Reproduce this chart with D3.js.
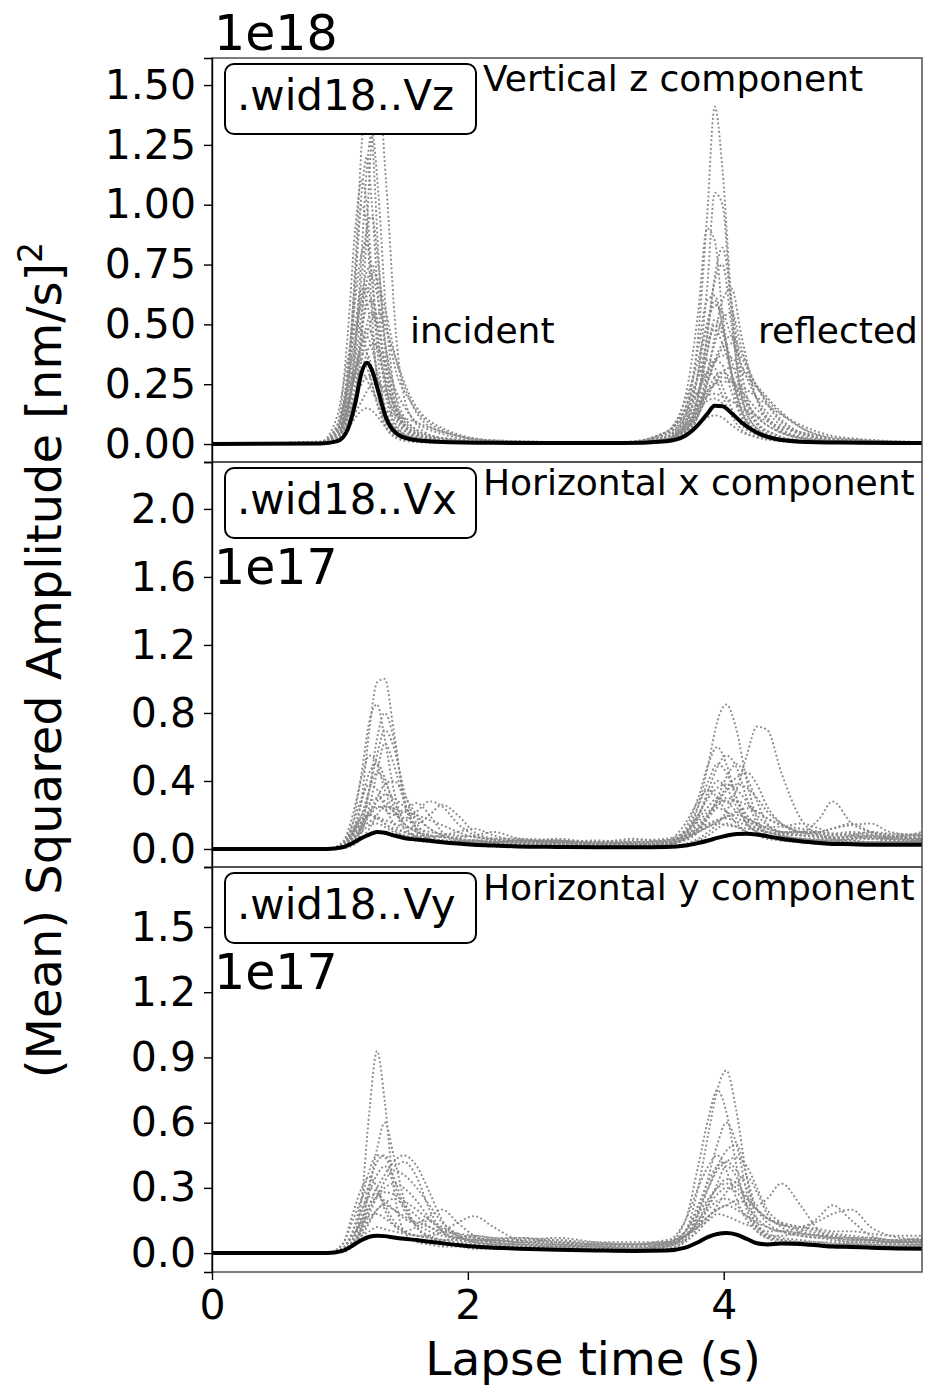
<!DOCTYPE html>
<html>
<head>
<meta charset="utf-8">
<script src="https://cdn.jsdelivr.net/npm/d3@7"></script>
<style>
  body { margin: 0; background: #fff; }
  svg { display: block; font-family: "DejaVu Sans", sans-serif; }
</style>
</head>
<body>
<svg id="chart" width="925" height="1389"></svg>
<script>
// ---------------- data ----------------
// lapse-time knots (s) for the vertical component
const zTimes = [0, 0.85, 0.98, 1.06, 1.12, 1.17, 1.21, 1.25, 1.3, 1.36, 1.44, 1.55, 1.75, 2.2,
                3.2, 3.55, 3.7, 3.8, 3.87, 3.93, 3.99, 4.06, 4.14, 4.25, 4.4, 4.6, 4.9, 5.55];
// lapse-time knots (s) for the two horizontal components
const hTimes = [0, 0.9, 1.02, 1.1, 1.17, 1.23, 1.29, 1.35, 1.42, 1.5, 1.6, 1.7, 1.8, 1.92, 2.05, 2.2, 2.4, 2.7, 3.0, 3.3,
                3.55, 3.7, 3.8, 3.88, 3.95, 4.02, 4.1, 4.18, 4.26, 4.34, 4.45, 4.6, 4.75, 4.85, 5.0, 5.15, 5.3, 5.55];

// squared amplitude of single records, Vz (x 1e18)
const zTraces = [
  [0,0.003,0.03,0.25,0.75,1.25,1.5,1.3,0.8,0.35,0.12,0.04,0.015,0.005,  0.004,0.02,0.12,0.45,0.95,1.41,1.15,0.6,0.25,0.09,0.03,0.012,0.006,0.004],
  [0,0.002,0.01,0.06,0.2,0.5,0.9,1.3,1.48,1.1,0.45,0.12,0.03,0.006,     0.003,0.015,0.08,0.3,0.65,1.05,1.0,0.55,0.2,0.07,0.025,0.01,0.005,0.003],
  [0,0.004,0.05,0.3,0.7,1.05,1.2,1.0,0.6,0.25,0.08,0.03,0.012,0.004,    0.003,0.02,0.06,0.2,0.45,0.7,0.82,0.6,0.3,0.1,0.04,0.015,0.006,0.004],
  [0,0.006,0.08,0.45,0.9,1.1,1.0,0.7,0.35,0.12,0.05,0.02,0.01,0.004,    0.003,0.03,0.15,0.4,0.6,0.62,0.5,0.3,0.15,0.06,0.03,0.012,0.006,0.004],
  [0,0.003,0.03,0.15,0.4,0.7,0.9,0.95,0.75,0.4,0.15,0.05,0.02,0.006,    0.004,0.015,0.05,0.15,0.3,0.42,0.52,0.55,0.4,0.2,0.08,0.03,0.01,0.005],
  [0,0.005,0.06,0.3,0.6,0.8,0.85,0.7,0.45,0.2,0.07,0.03,0.012,0.005,    0.003,0.04,0.15,0.28,0.35,0.32,0.24,0.15,0.08,0.04,0.02,0.01,0.005,0.003],
  [0,0.008,0.07,0.25,0.45,0.62,0.72,0.75,0.65,0.5,0.3,0.18,0.07,0.012,  0.004,0.02,0.07,0.15,0.22,0.28,0.3,0.27,0.2,0.12,0.06,0.025,0.01,0.005],
  [0,0.004,0.05,0.25,0.5,0.65,0.6,0.45,0.25,0.1,0.04,0.02,0.008,0.004,  0.003,0.02,0.1,0.3,0.5,0.6,0.5,0.3,0.14,0.05,0.02,0.008,0.004,0.003],
  [0,0.003,0.02,0.08,0.2,0.35,0.45,0.52,0.55,0.48,0.35,0.2,0.08,0.015,  0.005,0.02,0.06,0.12,0.2,0.25,0.28,0.26,0.22,0.15,0.08,0.03,0.012,0.006],
  [0,0.004,0.04,0.15,0.3,0.42,0.45,0.4,0.28,0.14,0.06,0.025,0.01,0.004, 0.003,0.01,0.05,0.2,0.45,0.68,0.75,0.5,0.2,0.07,0.025,0.01,0.005,0.003],
  [0,0.01,0.08,0.22,0.32,0.35,0.32,0.25,0.16,0.09,0.05,0.03,0.015,0.006,0.004,0.03,0.08,0.14,0.18,0.19,0.17,0.13,0.09,0.05,0.025,0.012,0.006,0.004],
  [0,0.003,0.02,0.07,0.13,0.18,0.22,0.25,0.25,0.2,0.12,0.06,0.025,0.008,0.004,0.04,0.2,0.55,0.9,0.85,0.55,0.28,0.12,0.05,0.02,0.008,0.004,0.003],
  [0,0.002,0.02,0.2,0.65,1.0,0.9,0.55,0.22,0.07,0.025,0.01,0.005,0.003, 0.002,0.01,0.04,0.12,0.25,0.35,0.33,0.22,0.11,0.045,0.018,0.008,0.004,0.002],
  [0,0.004,0.03,0.12,0.3,0.48,0.58,0.6,0.5,0.3,0.13,0.05,0.02,0.006,    0.004,0.02,0.06,0.14,0.25,0.35,0.42,0.45,0.38,0.25,0.13,0.05,0.018,0.008],
  [0,0.003,0.02,0.06,0.11,0.14,0.15,0.14,0.11,0.07,0.04,0.02,0.01,0.004,0.003,0.015,0.04,0.08,0.11,0.12,0.11,0.08,0.05,0.03,0.015,0.008,0.004,0.003],
  [0,0.002,0.02,0.12,0.4,0.8,1.15,1.3,1.05,0.55,0.18,0.05,0.015,0.005,  0.003,0.01,0.05,0.18,0.38,0.52,0.48,0.3,0.14,0.05,0.02,0.008,0.004,0.003],
  [0,0.01,0.12,0.35,0.5,0.47,0.38,0.26,0.15,0.07,0.03,0.015,0.008,0.004,0.003,0.02,0.09,0.22,0.3,0.28,0.2,0.12,0.06,0.03,0.015,0.007,0.004,0.003],
  [0,0.003,0.03,0.14,0.3,0.38,0.38,0.32,0.22,0.12,0.06,0.03,0.012,0.005,0.003,0.01,0.04,0.12,0.28,0.45,0.6,0.65,0.45,0.2,0.07,0.025,0.01,0.004],
  [0,0.01,0.05,0.12,0.2,0.25,0.28,0.28,0.26,0.22,0.15,0.08,0.03,0.01,   0.008,0.05,0.12,0.18,0.22,0.25,0.26,0.26,0.24,0.2,0.14,0.08,0.03,0.008],
  [0,0.005,0.04,0.15,0.35,0.55,0.68,0.72,0.68,0.55,0.35,0.18,0.06,0.015,0.005,0.05,0.18,0.35,0.5,0.58,0.55,0.45,0.33,0.2,0.1,0.04,0.015,0.006],
  [0,0.004,0.03,0.1,0.25,0.45,0.62,0.7,0.6,0.4,0.2,0.08,0.03,0.008,     0.004,0.02,0.08,0.2,0.38,0.5,0.46,0.35,0.22,0.12,0.06,0.025,0.01,0.005],
  [0,0.008,0.06,0.18,0.28,0.3,0.27,0.22,0.18,0.14,0.12,0.1,0.06,0.015,  0.006,0.04,0.1,0.16,0.2,0.21,0.2,0.18,0.15,0.12,0.08,0.05,0.02,0.008],
  [0,0.003,0.02,0.08,0.2,0.38,0.5,0.55,0.48,0.32,0.16,0.07,0.025,0.007, 0.003,0.015,0.05,0.12,0.2,0.26,0.3,0.32,0.3,0.24,0.15,0.07,0.025,0.008],
  [0,0.005,0.05,0.2,0.42,0.6,0.65,0.58,0.42,0.24,0.1,0.04,0.015,0.005,  0.004,0.03,0.12,0.28,0.42,0.48,0.42,0.3,0.18,0.09,0.04,0.015,0.007,0.004],
  [0,0.004,0.03,0.1,0.2,0.3,0.38,0.42,0.4,0.33,0.22,0.12,0.05,0.01,     0.005,0.05,0.14,0.22,0.3,0.35,0.37,0.36,0.32,0.25,0.16,0.07,0.02,0.006],
  [0,0.006,0.05,0.16,0.3,0.42,0.48,0.46,0.38,0.26,0.14,0.06,0.02,0.006, 0.004,0.02,0.07,0.16,0.26,0.34,0.4,0.42,0.36,0.25,0.12,0.045,0.015,0.006]
];
const zMean = [0,0.002,0.012,0.06,0.17,0.3,0.34,0.31,0.22,0.11,0.045,0.02,0.01,0.005,
               0.004,0.012,0.035,0.08,0.125,0.16,0.158,0.13,0.09,0.05,0.022,0.01,0.006,0.004];

// squared amplitude of single records, Vx (x 1e17)
const xTraces = [
  [0,0,0.01,0.08,0.3,0.7,0.98,1.0,0.7,0.3,0.1,0.05,0.04,0.03,0.02,0.015,0.01,0.01,0.008,0.008,     0.01,0.02,0.05,0.08,0.12,0.15,0.13,0.1,0.08,0.06,0.05,0.04,0.03,0.03,0.03,0.03,0.025,0.03],
  [0,0,0.02,0.15,0.45,0.75,0.85,0.65,0.35,0.15,0.07,0.05,0.04,0.03,0.025,0.02,0.015,0.01,0.01,0.01,0.02,0.08,0.25,0.5,0.75,0.85,0.7,0.4,0.18,0.08,0.05,0.04,0.03,0.03,0.03,0.03,0.03,0.035],
  [0,0,0.005,0.04,0.15,0.35,0.55,0.7,0.6,0.35,0.15,0.08,0.05,0.04,0.03,0.02,0.02,0.015,0.01,0.01,  0.015,0.03,0.06,0.1,0.15,0.22,0.35,0.55,0.72,0.7,0.45,0.18,0.08,0.06,0.05,0.04,0.04,0.04],
  [0,0,0.04,0.2,0.42,0.55,0.5,0.35,0.22,0.18,0.22,0.28,0.25,0.15,0.08,0.05,0.04,0.03,0.02,0.02,    0.03,0.1,0.25,0.4,0.5,0.45,0.3,0.18,0.12,0.1,0.08,0.06,0.05,0.04,0.04,0.04,0.04,0.05],
  [0,0,0.01,0.08,0.2,0.35,0.45,0.4,0.28,0.18,0.15,0.2,0.26,0.2,0.1,0.06,0.04,0.03,0.03,0.02,       0.03,0.12,0.3,0.5,0.6,0.5,0.3,0.15,0.1,0.08,0.07,0.06,0.05,0.05,0.04,0.04,0.04,0.04],
  [0,0,0.02,0.1,0.2,0.27,0.3,0.28,0.22,0.15,0.1,0.08,0.07,0.07,0.08,0.1,0.06,0.04,0.03,0.03,       0.04,0.07,0.12,0.2,0.3,0.42,0.5,0.42,0.28,0.15,0.1,0.1,0.18,0.28,0.15,0.1,0.08,0.06],
  [0,0,0.03,0.12,0.18,0.2,0.18,0.15,0.12,0.1,0.08,0.06,0.05,0.05,0.04,0.04,0.05,0.04,0.03,0.03,     0.04,0.1,0.18,0.25,0.3,0.28,0.22,0.18,0.15,0.12,0.1,0.09,0.1,0.12,0.14,0.15,0.1,0.08],
  [0,0,0.005,0.03,0.1,0.25,0.45,0.62,0.5,0.28,0.12,0.06,0.04,0.03,0.03,0.03,0.02,0.02,0.015,0.015, 0.04,0.15,0.28,0.35,0.3,0.22,0.15,0.1,0.08,0.07,0.06,0.05,0.05,0.04,0.04,0.04,0.05,0.05],
  [0,0,0.02,0.06,0.1,0.14,0.15,0.13,0.1,0.08,0.06,0.05,0.05,0.04,0.05,0.04,0.03,0.05,0.03,0.04,    0.05,0.08,0.12,0.15,0.17,0.18,0.16,0.14,0.12,0.1,0.09,0.08,0.07,0.06,0.08,0.1,0.09,0.08],
  [0,0,0.03,0.15,0.3,0.38,0.35,0.25,0.15,0.1,0.08,0.06,0.05,0.04,0.03,0.03,0.03,0.03,0.02,0.02,    0.03,0.06,0.12,0.2,0.28,0.36,0.42,0.45,0.38,0.25,0.15,0.1,0.1,0.12,0.15,0.1,0.08,0.06],
  [0,0,0.005,0.03,0.12,0.35,0.65,0.8,0.65,0.3,0.12,0.06,0.04,0.03,0.025,0.02,0.02,0.015,0.015,0.01,0.02,0.06,0.18,0.35,0.48,0.55,0.48,0.3,0.15,0.08,0.06,0.05,0.04,0.04,0.035,0.035,0.04,0.04],
  [0,0,0.02,0.08,0.16,0.22,0.25,0.23,0.2,0.22,0.27,0.2,0.1,0.06,0.05,0.04,0.04,0.035,0.03,0.03,    0.03,0.05,0.1,0.18,0.25,0.3,0.28,0.2,0.14,0.1,0.08,0.06,0.06,0.05,0.06,0.07,0.06,0.05],
  [0,0,0.01,0.04,0.07,0.09,0.1,0.09,0.08,0.06,0.05,0.04,0.04,0.04,0.05,0.04,0.04,0.06,0.04,0.06,   0.04,0.06,0.1,0.13,0.15,0.14,0.13,0.12,0.11,0.1,0.09,0.08,0.08,0.07,0.07,0.08,0.07,0.1],
  [0,0,0.01,0.1,0.28,0.45,0.5,0.42,0.25,0.12,0.07,0.05,0.04,0.035,0.03,0.025,0.02,0.02,0.015,0.015,0.02,0.08,0.2,0.32,0.4,0.36,0.25,0.15,0.1,0.08,0.07,0.06,0.05,0.05,0.05,0.04,0.04,0.05],
  [0,0,0.03,0.1,0.16,0.2,0.19,0.15,0.11,0.08,0.07,0.07,0.08,0.1,0.12,0.08,0.05,0.04,0.03,0.03,     0.03,0.06,0.1,0.14,0.17,0.19,0.2,0.18,0.15,0.13,0.13,0.15,0.12,0.09,0.08,0.07,0.06,0.06],
  [0,0,0.02,0.08,0.15,0.2,0.24,0.25,0.24,0.22,0.2,0.17,0.14,0.1,0.07,0.06,0.05,0.05,0.04,0.05,     0.06,0.1,0.16,0.22,0.26,0.28,0.28,0.26,0.22,0.18,0.14,0.1,0.09,0.08,0.08,0.07,0.07,0.08],
  [0,0,0.01,0.05,0.12,0.2,0.28,0.32,0.3,0.25,0.18,0.12,0.08,0.06,0.05,0.05,0.04,0.04,0.03,0.03,    0.04,0.1,0.2,0.3,0.36,0.38,0.35,0.28,0.2,0.14,0.1,0.08,0.07,0.06,0.06,0.06,0.05,0.06],
  [0,0,0.01,0.06,0.14,0.22,0.3,0.38,0.4,0.32,0.2,0.12,0.08,0.06,0.05,0.04,0.04,0.03,0.04,0.03,     0.03,0.06,0.12,0.2,0.28,0.34,0.38,0.36,0.3,0.22,0.15,0.1,0.08,0.07,0.07,0.06,0.06,0.07],
  [0,0,0.005,0.02,0.06,0.12,0.2,0.25,0.22,0.15,0.1,0.08,0.07,0.05,0.04,0.04,0.05,0.04,0.05,0.04,   0.05,0.08,0.14,0.2,0.24,0.22,0.18,0.16,0.14,0.12,0.1,0.1,0.09,0.08,0.09,0.08,0.07,0.08],
  [0,0,0.02,0.06,0.12,0.16,0.18,0.17,0.15,0.13,0.12,0.1,0.09,0.08,0.07,0.06,0.06,0.05,0.04,0.04,   0.05,0.07,0.1,0.13,0.16,0.19,0.22,0.24,0.22,0.18,0.14,0.12,0.1,0.09,0.1,0.09,0.08,0.09]
];
const xMean = [0,0,0.01,0.035,0.065,0.085,0.1,0.095,0.08,0.065,0.055,0.048,0.04,0.032,0.025,0.02,0.015,0.012,0.01,0.01,
               0.012,0.02,0.035,0.05,0.065,0.078,0.088,0.09,0.085,0.075,0.06,0.045,0.035,0.03,0.028,0.025,0.025,0.025];

// squared amplitude of single records, Vy (x 1e17)
const yTraces = [
  [0,0,0.01,0.06,0.25,0.65,0.93,0.7,0.3,0.1,0.05,0.04,0.03,0.03,0.02,0.02,0.02,0.015,0.01,0.01,      0.02,0.05,0.12,0.22,0.32,0.4,0.35,0.22,0.12,0.08,0.06,0.05,0.04,0.04,0.03,0.03,0.03,0.03],
  [0,0,0.02,0.1,0.25,0.38,0.45,0.44,0.35,0.22,0.12,0.08,0.06,0.05,0.04,0.03,0.03,0.02,0.02,0.015,   0.03,0.1,0.3,0.55,0.75,0.84,0.65,0.35,0.15,0.08,0.06,0.05,0.04,0.04,0.04,0.03,0.03,0.03],
  [0,0,0.005,0.04,0.12,0.22,0.3,0.36,0.42,0.45,0.4,0.28,0.15,0.08,0.05,0.04,0.03,0.03,0.02,0.02,    0.04,0.15,0.4,0.62,0.75,0.65,0.4,0.2,0.1,0.07,0.06,0.05,0.05,0.04,0.04,0.04,0.03,0.04],
  [0,0,0.01,0.06,0.15,0.28,0.36,0.4,0.32,0.2,0.14,0.17,0.2,0.14,0.08,0.05,0.04,0.03,0.03,0.02,      0.03,0.08,0.18,0.3,0.4,0.47,0.5,0.35,0.22,0.25,0.32,0.22,0.1,0.07,0.05,0.05,0.04,0.04],
  [0,0,0.04,0.15,0.25,0.3,0.28,0.22,0.15,0.1,0.08,0.08,0.1,0.14,0.17,0.12,0.06,0.04,0.03,0.02,      0.05,0.15,0.3,0.4,0.45,0.38,0.25,0.15,0.1,0.08,0.08,0.1,0.17,0.22,0.15,0.08,0.06,0.05],
  [0,0,0.01,0.05,0.1,0.15,0.2,0.23,0.25,0.22,0.17,0.12,0.09,0.07,0.06,0.05,0.06,0.05,0.04,0.03,     0.04,0.08,0.15,0.22,0.27,0.3,0.28,0.22,0.16,0.12,0.1,0.12,0.15,0.18,0.2,0.12,0.08,0.06],
  [0,0,0.02,0.08,0.14,0.17,0.18,0.16,0.13,0.1,0.08,0.07,0.06,0.06,0.05,0.06,0.07,0.05,0.04,0.04,    0.05,0.08,0.13,0.17,0.2,0.22,0.2,0.17,0.14,0.12,0.1,0.08,0.07,0.07,0.06,0.06,0.05,0.05],
  [0,0,0.005,0.03,0.12,0.3,0.48,0.6,0.45,0.25,0.12,0.07,0.05,0.04,0.03,0.03,0.025,0.02,0.02,0.015,  0.02,0.06,0.18,0.35,0.5,0.6,0.5,0.28,0.12,0.07,0.05,0.05,0.04,0.04,0.04,0.035,0.03,0.03],
  [0,0,0.04,0.18,0.3,0.35,0.3,0.2,0.13,0.1,0.12,0.15,0.12,0.08,0.05,0.04,0.04,0.03,0.03,0.02,       0.03,0.06,0.1,0.16,0.22,0.28,0.33,0.35,0.28,0.18,0.12,0.09,0.08,0.07,0.07,0.06,0.05,0.05],
  [0,0,0.01,0.04,0.08,0.1,0.12,0.11,0.1,0.09,0.08,0.07,0.06,0.07,0.08,0.07,0.06,0.07,0.05,0.04,     0.06,0.08,0.12,0.15,0.18,0.17,0.15,0.13,0.12,0.1,0.1,0.09,0.08,0.08,0.07,0.06,0.06,0.07],
  [0,0,0.01,0.06,0.18,0.32,0.42,0.45,0.4,0.42,0.35,0.2,0.1,0.06,0.05,0.04,0.03,0.03,0.02,0.02,      0.03,0.07,0.14,0.2,0.24,0.25,0.22,0.17,0.12,0.09,0.07,0.06,0.05,0.05,0.04,0.04,0.04,0.04],
  [0,0,0.02,0.08,0.15,0.22,0.26,0.28,0.27,0.24,0.2,0.15,0.11,0.08,0.07,0.06,0.05,0.05,0.04,0.04,    0.05,0.1,0.18,0.25,0.3,0.32,0.3,0.25,0.2,0.16,0.13,0.11,0.09,0.08,0.07,0.07,0.06,0.06],
  [0,0,0.01,0.05,0.12,0.2,0.26,0.3,0.32,0.3,0.24,0.16,0.1,0.07,0.06,0.05,0.04,0.04,0.03,0.03,       0.04,0.1,0.22,0.33,0.4,0.42,0.38,0.3,0.2,0.14,0.1,0.08,0.07,0.06,0.05,0.05,0.05,0.05],
  [0,0,0.005,0.03,0.08,0.14,0.2,0.22,0.2,0.17,0.14,0.12,0.1,0.09,0.08,0.07,0.07,0.06,0.05,0.05,     0.05,0.08,0.12,0.17,0.2,0.22,0.24,0.23,0.2,0.16,0.13,0.12,0.11,0.1,0.1,0.09,0.08,0.08],
  [0,0,0.02,0.1,0.2,0.26,0.27,0.24,0.2,0.16,0.13,0.1,0.08,0.07,0.06,0.06,0.05,0.06,0.04,0.04,       0.04,0.08,0.15,0.24,0.3,0.34,0.32,0.26,0.2,0.16,0.14,0.12,0.1,0.09,0.08,0.07,0.06,0.06],
  [0,0,0.01,0.04,0.1,0.18,0.26,0.33,0.38,0.36,0.3,0.22,0.14,0.09,0.07,0.06,0.05,0.04,0.04,0.03,     0.04,0.1,0.2,0.3,0.38,0.42,0.44,0.4,0.3,0.2,0.14,0.1,0.08,0.07,0.06,0.06,0.05,0.05]
];
const yMean = [0,0,0.01,0.035,0.06,0.075,0.08,0.078,0.072,0.066,0.06,0.052,0.045,0.037,0.03,0.025,0.02,0.015,0.012,0.01,
               0.012,0.025,0.05,0.075,0.088,0.092,0.085,0.065,0.045,0.04,0.044,0.042,0.035,0.03,0.028,0.025,0.022,0.02];

// axis ticks and labels
const timeTicks = [0, 2, 4];
const zTicks = [0, 0.25, 0.5, 0.75, 1.0, 1.25, 1.5];
const xTicks = [0, 0.4, 0.8, 1.2, 1.6, 2.0];
const yTicks = [0, 0.3, 0.6, 0.9, 1.2, 1.5];
const stationLabels = [".wid18..Vz", ".wid18..Vx", ".wid18..Vy"];
const componentTitles = ["Vertical z component", "Horizontal x component", "Horizontal y component"];
const scaleLabels = ["1e18", "1e17", "1e17"];
const phaseLabels = ["incident", "reflected"];

// ---------------- layout ----------------
const svg = d3.select("#chart");
const plotLeft = 212, plotRight = 922;
const bands = [[58, 462], [462, 867], [867, 1272]];
const yLimits = [[-0.075, 1.613], [-0.106, 2.276], [-0.087, 1.776]];

const x = d3.scaleLinear().domain([0, 5.55]).range([plotLeft, plotRight]);

const panels = [
  { times: zTimes, traces: zTraces, mean: zMean, ticks: zTicks, fmt: d3.format(".2f") },
  { times: hTimes, traces: xTraces, mean: xMean, ticks: xTicks, fmt: d3.format(".1f") },
  { times: hTimes, traces: yTraces, mean: yMean, ticks: yTicks, fmt: d3.format(".1f") }
];

const tickFont = 41;

panels.forEach((p, i) => {
  const [top, bottom] = bands[i];
  const y = d3.scaleLinear().domain(yLimits[i]).range([bottom, top]);
  const g = svg.append("g");

  g.append("clipPath").attr("id", "clip" + i)
    .append("rect").attr("x", plotLeft).attr("y", top)
    .attr("width", plotRight - plotLeft).attr("height", bottom - top);

  const line = d3.line()
    .x((d, k) => x(p.times[k]))
    .y(d => y(d))
    .curve(d3.curveMonotoneX);

  // individual records: grey dotted
  const plot = g.append("g").attr("clip-path", `url(#clip${i})`);
  plot.selectAll("path.trace").data(p.traces).join("path")
    .attr("class", "trace")
    .attr("d", line)
    .attr("fill", "none")
    .attr("stroke", "#8a8a8a")
    .attr("stroke-width", 1.9)
    .attr("stroke-dasharray", "1.9,2.4");

  // mean: thick black
  plot.append("path")
    .datum(p.mean)
    .attr("d", line)
    .attr("fill", "none")
    .attr("stroke", "#000")
    .attr("stroke-width", 4)
    .attr("stroke-linejoin", "round");

  // frame
  g.append("rect")
    .attr("x", plotLeft).attr("y", top)
    .attr("width", plotRight - plotLeft).attr("height", bottom - top)
    .attr("fill", "none").attr("stroke", "#444").attr("stroke-width", 1.4);

  // y axis
  const ax = g.append("g").attr("transform", `translate(${plotLeft},0)`)
    .call(d3.axisLeft(y).tickValues(p.ticks).tickFormat(p.fmt).tickSize(8).tickPadding(8));
  ax.select(".domain").attr("stroke", "#000").attr("stroke-width", 1.4);
  ax.selectAll(".tick line").attr("stroke", "#000").attr("stroke-width", 1.4);
  ax.selectAll(".tick text")
    .attr("font-size", tickFont).attr("fill", "#000")
    .attr("font-family", "DejaVu Sans, sans-serif");

  // station label box
  g.append("rect")
    .attr("x", 225).attr("y", top + 6).attr("width", 251).attr("height", 70)
    .attr("rx", 9).attr("fill", "#fff").attr("stroke", "#000").attr("stroke-width", 2);
  g.append("text")
    .attr("x", 237).attr("y", top + 52)
    .attr("font-size", 42).text(stationLabels[i]);

  // component title
  g.append("text")
    .attr("x", 483).attr("y", top + 33)
    .attr("font-size", 36).text(componentTitles[i]);

  // scale factor
  g.append("text")
    .attr("x", 214).attr("y", i === 0 ? 50 : top + 122)
    .attr("font-size", 49).text(scaleLabels[i]);

  if (i === 0) {
    g.append("text").attr("x", 410).attr("y", 343).attr("font-size", 36).text(phaseLabels[0]);
    g.append("text").attr("x", 758).attr("y", 343).attr("font-size", 36).text(phaseLabels[1]);
  }

  if (i === panels.length - 1) {
    const bx = g.append("g").attr("transform", `translate(0,${bottom})`)
      .call(d3.axisBottom(x).tickValues(timeTicks).tickFormat(d3.format("d")).tickSize(8).tickPadding(10));
    bx.select(".domain").remove();
    bx.selectAll(".tick line").attr("stroke", "#000").attr("stroke-width", 1.4);
    bx.selectAll(".tick text")
      .attr("font-size", tickFont).attr("fill", "#000")
      .attr("font-family", "DejaVu Sans, sans-serif");
  }
});

// axis titles
svg.append("text")
  .attr("x", 593).attr("y", 1375)
  .attr("text-anchor", "middle").attr("font-size", 47)
  .text("Lapse time (s)");

const yl = svg.append("text")
  .attr("transform", "translate(61,660) rotate(-90)")
  .attr("text-anchor", "middle").attr("font-size", 48);
yl.append("tspan").text("(Mean) Squared Amplitude [nm/s]");
yl.append("tspan").attr("font-size", 33).attr("dy", -19).text("2");
</script>
</body>
</html>
